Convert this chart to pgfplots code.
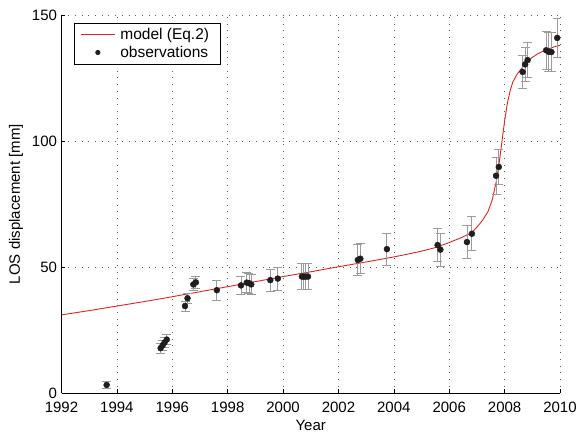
\documentclass[border=0pt]{standalone}
\usepackage{fontspec}
\setmainfont{Liberation Sans}
\usepackage{pgfplots}
\usepackage{pgfplotstable}
\pgfplotsset{compat=1.18}

\definecolor{modelred}{RGB}{225,35,35}
\definecolor{errgray}{RGB}{155,155,155}
\definecolor{obsblack}{RGB}{30,30,30}

% Observed LOS displacement: year, value [mm], uncertainty [mm]
\pgfplotstableread{
year   los    err
1993.63  3.2  1.5
1995.58 17.8  2.0
1995.65 18.9  2.0
1995.72 20.0  2.0
1995.80 21.2  2.0
1996.46 34.5  2.0
1996.55 37.6  2.0
1996.76 43.1  2.5
1996.85 43.9  2.5
1997.61 40.8  4.0
1998.48 42.7  3.7
1998.69 43.8  4.0
1998.77 43.6  4.0
1998.85 43.1  4.0
1999.54 44.8  4.4
1999.81 45.4  4.6
2000.68 46.2  5.2
2000.75 46.2  5.2
2000.82 46.2  5.2
2000.90 46.2  5.2
2002.70 52.8  6.0
2002.79 53.3  6.0
2003.75 57.1  6.3
2005.58 58.7  6.6
2005.68 56.9  6.6
2006.64 59.9  6.5
2006.82 63.2  6.7
2007.69 86.2  7.3
2007.79 89.7  7.0
2008.65 127.4 6.6
2008.74 130.4 6.8
2008.83 132.1 7.0
2009.50 136.0 7.5
2009.59 135.4 7.8
2009.69 135.3 7.8
2009.90 140.9 7.8
}\obs

% Model curve (Eq.2)
\pgfplotstableread{
year    los
1992.0  31.0
1993.0  32.7
1994.0  34.5
1995.0  36.3
1996.0  38.2
1997.0  40.2
1998.0  42.2
1999.0  44.2
2000.0  46.2
2001.0  48.1
2002.0  50.1
2003.0  52.0
2004.0  54.0
2004.5  55.1
2005.0  56.3
2005.5  57.7
2006.0  59.7
2006.4  61.5
2006.8  63.5
2007.0  65.8
2007.2  68.5
2007.4  72.0
2007.55 76.5
2007.7  84.0
2007.8  91.0
2007.9  99.5
2008.0  108.0
2008.1  115.0
2008.2  120.0
2008.3  123.5
2008.45 126.5
2008.6  128.6
2008.8  131.2
2009.0  133.2
2009.2  134.6
2009.4  135.7
2009.6  136.6
2009.8  137.4
2010.0  138.0
}\model

\begin{document}
\begin{tikzpicture}
\begin{axis}[
  scale only axis,
  width=498.5pt, height=378pt,
  xmin=1992, xmax=2010, ymin=0, ymax=150,
  xtick={1992,1994,...,2010},
  ytick={0,50,100,150},
  axis x line*=bottom, axis y line*=left,
  axis line style={line width=0.7pt, black},
  tick align=inside,
  major tick length=4pt,
  tick style={black, line width=0.6pt},
  /pgf/number format/assume math mode=true,
  /pgf/number format/1000 sep={},
  tick label style={font=\fontsize{15}{17}\selectfont},
  xticklabel style={inner ysep=0pt, yshift=-8.5pt},
  yticklabel style={inner ysep=0pt, xshift=-1pt},
  label style={font=\fontsize{15}{17}\selectfont},
  xlabel={Year},
  ylabel={LOS displacement [mm]},
  xlabel style={yshift=-4.5pt},
  ylabel style={yshift=2pt},
  grid=major,
  major grid style={black!65, line width=0.6pt, dash pattern=on 0.7pt off 6pt},
  legend style={at={(0.025,0.98)}, anchor=north west,
    font=\fontsize{15.5}{17}\selectfont, draw=black, line width=0.7pt,
    inner xsep=6pt, inner ysep=3.5pt, row sep=1pt,
    nodes={inner xsep=5pt}},
  legend cell align=left,
  legend image code/.code={
    \draw[mark repeat=2,mark phase=2,#1] plot coordinates {(0cm,0cm) (0.6cm,0cm) (1.2cm,0cm)};},
]
\addplot[modelred, line width=0.9pt, no markers] table[x=year, y=los] {\model};
\addlegendentry{model (Eq.2)}
\addplot[only marks, mark=*, mark size=3pt, color=obsblack,
  legend image post style={mark size=2.2pt},
  error bars/.cd, y dir=both, y explicit,
  error bar style={errgray, line width=0.9pt},
  error mark options={errgray, rotate=90, mark size=4.5pt, line width=0.9pt}]
  table[x=year, y=los, y error=err] {\obs};
\addlegendentry{observations}
\end{axis}
\pgfresetboundingbox
\path[use as bounding box] (-61.5pt,-44pt) rectangle (515.5pt,393pt);
\end{tikzpicture}
\end{document}
